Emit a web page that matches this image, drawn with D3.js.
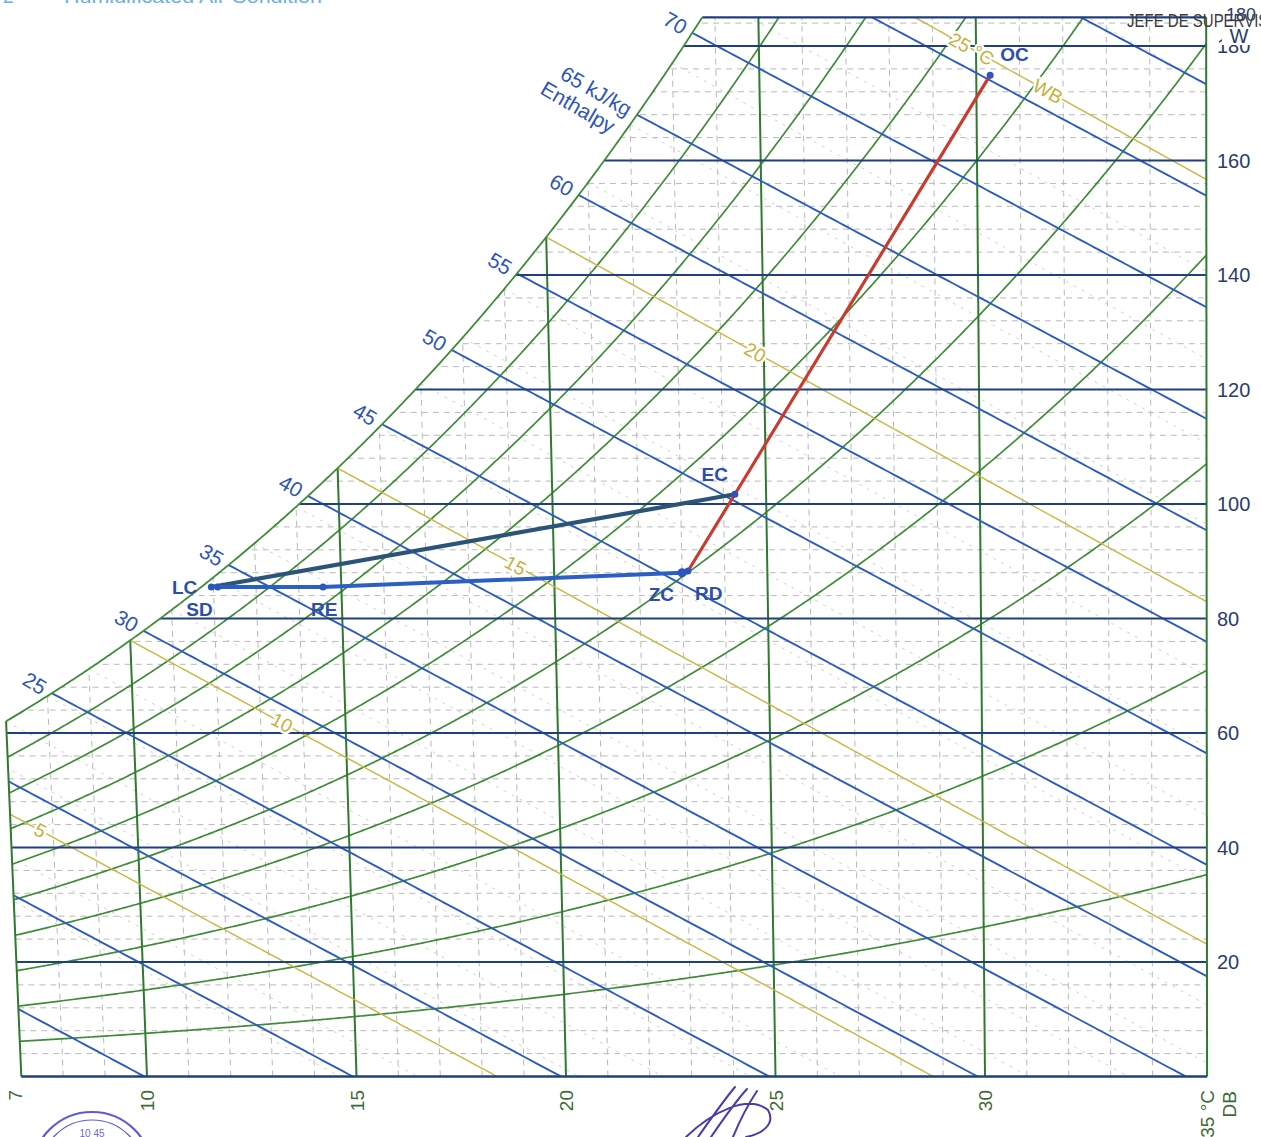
<!DOCTYPE html>
<html>
<head>
<meta charset="utf-8">
<script src="https://cdn.jsdelivr.net/npm/d3@7"></script>
<style>
  html, body { margin: 0; padding: 0; background: #ffffff; }
  svg { display: block; }
  text { font-family: "Liberation Sans", Arial, sans-serif; }
</style>
</head>
<body>
<svg id="chart" width="1261" height="1137"></svg>
<script>
// ---------------- chart data ----------------
const dbTicks = [7, 10, 15, 20, 25, 30, 35];            // dry bulb, °C
const dbMajor = [10, 15, 20, 25, 30];
const wTicks = [20, 40, 60, 80, 100, 120, 140, 160, 180]; // humidity ratio W
const rhLevels = [10, 20, 30, 40, 50, 60, 70, 80, 90];    // % relative humidity
const enthalpyLevels = [10, 15, 20, 25, 30, 35, 40, 45, 50, 55, 60, 65, 70, 75, 80]; // kJ/kg
const enthalpyLabelled = [25, 30, 35, 40, 45, 50, 55, 60, 65, 70];
const enthalpyUnitAt = 65;
const wetBulbLevels = [5, 10, 15, 20, 25];                // °C WB
const wetBulbLabelAt = [7.7, 13.5, 19.1, 24.8, 29.9];     // dry bulb where each WB label sits
const wetBulbMinor = [3, 4, 6, 7, 8, 9, 11, 12, 13, 14, 16, 17, 18, 19, 21, 22, 23, 24, 26];

// process states
const stateNames = ["LC", "SD", "RE", "ZC", "RD", "EC", "OC"];
const stateDB    = [11.95, 12.1, 14.57, 23.0, 23.14, 24.27, 30.32];
const stateW     = [85.5, 85.5, 85.5, 88.0, 88.3, 101.7, 174.9];

// process lines, as sequences of state names
const supplyLine = ["SD", "RE", "ZC"];
const mixLine    = ["LC", "EC"];
const heatLine   = ["RD", "EC", "OC"];

// ---------------- psychrometrics (sea level) ----------------
const P = 101.325;
const pws = t => 0.61094 * Math.exp(17.625 * t / (t + 243.04));
const wAtRH = (rh, t) => { const pw = rh / 100 * pws(t); return 10000 * 0.622 * pw / (P - pw); };
const wSat = t => wAtRH(100, t);
const wAtH = (h, t) => 10000 * (h - 1.006 * t) / (2501 + 1.86 * t);
const hSat = t => 1.006 * t + wSat(t) / 10000 * (2501 + 1.86 * t);
const wAtWB = (twb, t) => 10000 * ((2501 - 2.326 * twb) * wSat(twb) / 10000 - 1.006 * (t - twb)) /
                          (2501 + 1.86 * t - 4.186 * twb);
function solve(f, lo, hi) {
  for (let i = 0; i < 60; i++) {
    const m = (lo + hi) / 2;
    if (f(lo) * f(m) <= 0) hi = m; else lo = m;
  }
  return (lo + hi) / 2;
}

// ---------------- scales ----------------
const x = d3.scaleLinear().domain([10, 30]).range([147, 985]);
const y = d3.scaleLinear().domain([0, 180]).range([1076.5, 46]);
const tMin = 7, tMax = 35.3, wMax = 185;
// dry-bulb lines lean slightly to the left as humidity rises
const lean = t => 0.22 - 0.0085 * (t - 10);
const px = (t, w) => x(t) - lean(t) * w;
const py = w => y(w);
const line = d3.line().x(d => px(d[0], d[1])).y(d => py(d[1]));

const tTop = solve(t => wSat(t) - wMax, 7, 35);
const satPts = d3.range(tMin, tTop, 0.05).map(t => [t, wSat(t)]).concat([[tTop, wMax]]);
const stepT = (a, b, s) => d3.range(a, b, s).concat([b]);

const boundary = []
  .concat(d3.range(0, wSat(tMin), 1).map(w => [tMin, w]))
  .concat(satPts)
  .concat(stepT(tTop, tMax, 0.1).map(t => [t, wMax]))
  .concat([[tMax, 0]])
  .concat(stepT(tMin, tMax, 0.5).reverse().map(t => [t, 0]));

const svg = d3.select("#chart");
svg.append("defs").append("clipPath").attr("id", "plot-area")
  .append("path").attr("d", line(boundary) + "Z");

const grid = svg.append("g").attr("clip-path", "url(#plot-area)").attr("fill", "none");

const angleAt = (fw, t) => {
  const a = [px(t, fw(t)), py(fw(t))], b = [px(t + 0.5, fw(t + 0.5)), py(fw(t + 0.5))];
  return Math.atan2(b[1] - a[1], b[0] - a[0]) * 180 / Math.PI;
};

// minor grid: W every 4, dry bulb every 1 °C
grid.selectAll(".minor-w").data(d3.range(4, wMax, 4).filter(w => w % 20 !== 0)).join("path")
  .attr("d", w => line([[tMin, w], [tMax, w]]))
  .attr("stroke", "#b9b9b9").attr("stroke-width", 1).attr("stroke-dasharray", "6,5");
grid.selectAll(".minor-t").data(d3.range(8, 36).filter(t => t % 5 !== 0)).join("path")
  .attr("d", t => line([[t, 0], [t, wMax]]))
  .attr("stroke", "#b9b9b9").attr("stroke-width", 1).attr("stroke-dasharray", "6,5");

// faint wet-bulb lines every 1 °C
grid.selectAll(".wb-minor").data(wetBulbMinor).join("path")
  .attr("d", twb => line(stepT(twb, tMax, 0.2).map(t => [t, wAtWB(twb, t)])))
  .attr("stroke", "#c9c9c9").attr("stroke-width", 0.9).attr("stroke-dasharray", "3,6");

// relative humidity curves
grid.selectAll(".rh").data(rhLevels).join("path")
  .attr("d", rh => line(stepT(tMin, tMax, 0.05).map(t => [t, Math.min(wAtRH(rh, t), 260)])))
  .attr("stroke", "#3f8c38").attr("stroke-width", 1.7);

// dry bulb lines
grid.selectAll(".db").data(dbMajor).join("path")
  .attr("d", t => line([[t, 0], [t, wMax]]))
  .attr("stroke", "#2f7a2f").attr("stroke-width", 2);

// enthalpy lines
grid.selectAll(".h").data(enthalpyLevels).join("path")
  .attr("d", h => line(stepT(tMin - 2, tMax + 1, 0.1).map(t => [t, wAtH(h, t)])))
  .attr("stroke", "#2d5cc0").attr("stroke-width", 1.9);

// wet bulb lines
grid.selectAll(".wb").data(wetBulbLevels).join("path")
  .attr("d", twb => line(stepT(twb, tMax + 1, 0.1).map(t => [t, wAtWB(twb, t)])))
  .attr("stroke", "#c7b63e").attr("stroke-width", 1.4);

// humidity ratio lines
grid.selectAll(".w").data(wTicks).join("path")
  .attr("d", w => line([[tMin - 1, w], [tMax + 1, w]]))
  .attr("stroke", "#203f7e").attr("stroke-width", 2.2);

// chart boundary
const frame = svg.append("g").attr("fill", "none");
frame.append("path").attr("d", line(satPts)).attr("stroke", "#3f8c38").attr("stroke-width", 1.8);
frame.append("path").attr("d", line([[tMin, 0], [tMin, wSat(tMin)]])).attr("stroke", "#2f7a2f").attr("stroke-width", 2);
frame.append("path").attr("d", line([[tMax, 0], [tMax, wMax]])).attr("stroke", "#2f7a2f").attr("stroke-width", 2);
frame.append("path").attr("d", line([[tMin, 0], [tMax, 0]])).attr("stroke", "#203f7e").attr("stroke-width", 2.5);
frame.append("path").attr("d", line(stepT(tTop, tMax, 0.1).map(t => [t, wMax]))).attr("stroke", "#203f7e").attr("stroke-width", 2.2);

// enthalpy labels along the saturation curve
const hLab = svg.append("g").attr("fill", "#2e55b3").attr("font-size", 21);
enthalpyLabelled.forEach(h => {
  const ts = solve(t => hSat(t) - h, 0, 40), ws = wSat(ts);
  const ang = angleAt(t => wAtH(h, t), ts) + 2;
  const g = hLab.append("g").attr("transform", `translate(${px(ts, ws)},${py(ws)}) rotate(${ang})`);
  g.append("text").attr("x", -8).attr("dy", "0.35em").attr("text-anchor", "end")
    .text(h === enthalpyUnitAt ? h + " kJ/kg" : h);
  if (h === enthalpyUnitAt) {
    g.append("text").attr("x", -14).attr("y", 23).attr("dy", "0.35em").attr("text-anchor", "end").text("Enthalpy");
  }
});

// wet bulb labels
const wbLab = svg.append("g").attr("fill", "#c2b13a").attr("font-size", 19)
  .attr("stroke", "#ffffff").attr("stroke-width", 5).attr("paint-order", "stroke").attr("stroke-linejoin", "round");
wetBulbLevels.forEach((twb, i) => {
  const t = wetBulbLabelAt[i], w = wAtWB(twb, t);
  const ang = angleAt(tt => wAtWB(twb, tt), t);
  const isLast = i === wetBulbLevels.length - 1;
  wbLab.append("text")
    .attr("transform", `translate(${px(t, w)},${py(w)}) rotate(${ang})`)
    .attr("text-anchor", "middle").attr("dy", "0.35em")
    .text(isLast ? twb + " °C" : twb);
  if (isLast) {
    const t2 = t + 1.75, w2 = wAtWB(twb, t2);
    wbLab.append("text")
      .attr("transform", `translate(${px(t2, w2)},${py(w2)}) rotate(${ang})`)
      .attr("text-anchor", "middle").attr("dy", "0.35em").text("WB");
  }
});

// ---------------- process ----------------
const state = name => { const i = stateNames.indexOf(name); return [stateDB[i], stateW[i]]; };
const proc = svg.append("g").attr("fill", "none").attr("stroke-linejoin", "round").attr("stroke-linecap", "round");
proc.append("path").attr("d", line(mixLine.map(state))).attr("stroke", "#2b5578").attr("stroke-width", 4.2);
proc.append("path").attr("d", line(supplyLine.map(state))).attr("stroke", "#2c5fc4").attr("stroke-width", 4);
proc.append("path").attr("d", line(heatLine.map(state))).attr("stroke", "#c93a2f").attr("stroke-width", 3.2);

svg.append("g").selectAll("circle").data(stateNames).join("circle")
  .attr("cx", (d, i) => px(stateDB[i], stateW[i]))
  .attr("cy", (d, i) => py(stateW[i]))
  .attr("r", d => d === "ZC" ? 4.5 : 3.5)
  .attr("fill", "#2c55c0");

// label placement relative to each state's marker
const labelPos = {
  LC: [-14, 7, "end"], SD: [-5, 29, "end"], RE: [-12, 29, "start"], ZC: [-8, 28, "end"],
  RD: [7, 29, "start"], EC: [-7, -13, "end"], OC: [10, -14, "start"]
};
svg.append("g").attr("fill", "#2d4fa8").attr("font-size", 19).attr("font-weight", "bold")
  .selectAll("text").data(stateNames).join("text")
  .attr("x", (d, i) => px(stateDB[i], stateW[i]) + labelPos[d][0])
  .attr("y", (d, i) => py(stateW[i]) + labelPos[d][1])
  .attr("text-anchor", d => labelPos[d][2])
  .text(d => d);

// ---------------- axes ----------------
const dbLab = svg.append("g").attr("fill", "#3d6a34").attr("font-size", 19);
dbTicks.forEach((t, i) => {
  const last = i === dbTicks.length - 1;
  const xx = last ? px(tMax, 0) : px(t, 0);
  const shift = i === 0 ? 1 : 7;
  dbLab.append("text").attr("transform", `translate(${xx + shift},1090) rotate(-90)`)
    .attr("text-anchor", "end").text(last ? t + " °C" : t);
});
dbLab.append("text").attr("transform", `translate(${px(tMax, 0) + 29},1091) rotate(-90)`)
  .attr("text-anchor", "end").text("DB");

const wLab = svg.append("g").attr("fill", "#2b3c6b").attr("font-size", 20);
wLab.selectAll("text").data(wTicks).join("text")
  .attr("x", 1217).attr("y", w => py(w)).attr("dy", "0.36em").text(w => w);
wLab.append("rect").attr("x", 1222).attr("y", 26).attr("width", 34).attr("height", 19).attr("fill", "#ffffff");
wLab.append("text").attr("x", 1239).attr("y", 43).attr("text-anchor", "middle").text("W");

// ---------------- page furniture ----------------
svg.append("text").attr("x", 3).attr("y", 3).attr("fill", "#6ab0e4").attr("font-size", 19).text("2");
svg.append("text").attr("x", 64).attr("y", 3).attr("fill", "#6ab0e4").attr("font-size", 19)
  .attr("textLength", 258).attr("lengthAdjust", "spacingAndGlyphs").text("Humidificated Air Condition");
svg.append("text").attr("x", 1127).attr("y", 27).attr("fill", "#3a3a3a").attr("font-size", 19)
  .attr("font-family", "'Liberation Sans Narrow', 'DejaVu Sans Condensed', sans-serif")
  .attr("textLength", 168).attr("lengthAdjust", "spacingAndGlyphs").text("JEFE DE SUPERVISIÓN");
svg.append("text").attr("x", 1226).attr("y", 21).attr("fill", "#2b3c6b").attr("font-size", 18).text("180");

// stamp
const stamp = svg.append("g").attr("fill", "none").attr("stroke", "#5c5ad6");
stamp.append("circle").attr("cx", 92).attr("cy", 1172).attr("r", 60).attr("stroke-width", 2.2);
stamp.append("circle").attr("cx", 92).attr("cy", 1172).attr("r", 52).attr("stroke-width", 1.2);
svg.append("text").attr("x", 92).attr("y", 1137).attr("text-anchor", "middle")
  .attr("fill", "#6a68d8").attr("font-size", 10).text("10 45");

// signature
svg.append("path").attr("fill", "none").attr("stroke", "#4b3ca8").attr("stroke-width", 2)
  .attr("stroke-linecap", "round")
  .attr("d", "M698,1137 C710,1120 724,1100 735,1087 M711,1137 C724,1118 737,1100 747,1089 " +
             "M733,1137 C740,1120 749,1103 757,1091 M686,1137 C712,1112 748,1094 768,1110 " +
             "C776,1124 762,1134 746,1137");
</script>
</body>
</html>
